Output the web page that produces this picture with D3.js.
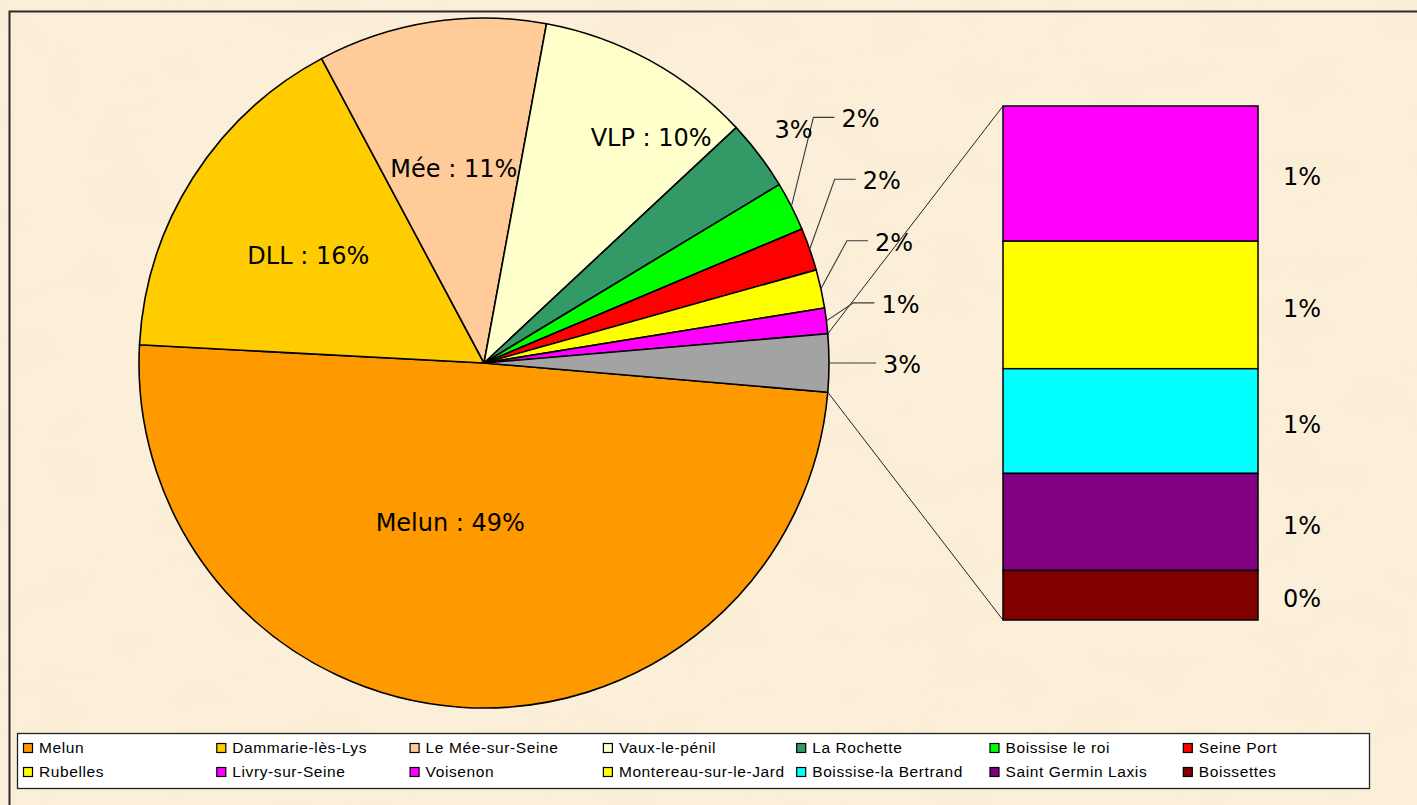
<!DOCTYPE html>
<html>
<head>
<meta charset="utf-8">
<script src="https://cdn.jsdelivr.net/npm/d3@7"></script>
<style>
  html, body { margin: 0; padding: 0; background: #fbedd5; }
  svg { display: block; }
</style>
</head>
<body>
<svg id="chart" width="1417" height="805"></svg>
<script>
// ---------- DATA ----------
const pieNames = ["Melun", "Dammarie-lès-Lys", "Le Mée-sur-Seine", "Vaux-le-pénil", "La Rochette",
                  "Boissise le roi", "Seine Port", "Rubelles", "Livry-sur-Seine"];
const pieShort = ["Melun", "DLL", "Mée", "VLP", null, null, null, null, null];
const pieValues = [49.49, 16.36, 10.7, 10.15, 3.3, 2.3, 2.0, 1.8, 1.2];
const pieColors = ["#FF9900", "#FFCC00", "#FFCC99", "#FFFFCC", "#339966",
                   "#00FF00", "#FF0000", "#FFFF00", "#FF00FF"];

const otherNames = ["Voisenon", "Montereau-sur-le-Jard", "Boissise-la Bertrand", "Saint Germin Laxis", "Boissettes"];
const otherValues = [0.71, 0.67, 0.55, 0.51, 0.26];
const otherColors = ["#FF00FF", "#FFFF00", "#00FFFF", "#800080", "#800000"];
const otherSliceColor = "#A3A3A3";

// ---------- LAYOUT ----------
const W = 1417, H = 805;
const cx = 484, cy = 363, R = 345;
const barX = 1003, barW = 255, barTop = 106, barBottom = 620;
const labelFont = "'DejaVu Sans', Verdana, sans-serif";
const legendFont = "'Liberation Sans', Arial, sans-serif";

const svg = d3.select("#chart");

// background with subtle parchment texture
const defs = svg.append("defs");
const filt = defs.append("filter").attr("id", "paper").attr("x", 0).attr("y", 0).attr("width", "100%").attr("height", "100%");
filt.append("feTurbulence").attr("type", "fractalNoise").attr("baseFrequency", "0.012 0.02").attr("numOctaves", 3).attr("seed", 7).attr("result", "noise");
filt.append("feColorMatrix").attr("in", "noise").attr("type", "matrix")
  .attr("values", "0 0 0 0 0.93  0 0 0 0 0.83  0 0 0 0 0.63  0 0 0 -1.6 0.85");
svg.append("rect").attr("width", W).attr("height", H).attr("fill", "#fcefd9");
svg.append("rect").attr("width", W).attr("height", H).attr("filter", "url(#paper)").attr("opacity", 0.7);

// outer chart border (only top/left visible)
svg.append("rect").attr("x", 9.5).attr("y", 11.5).attr("width", 1420).attr("height", 820)
  .attr("fill", "none").attr("stroke", "#2a2a2a").attr("stroke-width", 2);

// ---------- PIE ----------
const otherTotal = d3.sum(otherValues);
const total = d3.sum(pieValues) + otherTotal;
const pct = v => Math.round(v / total * 100) + "%";

const pieData = pieNames.map((n, i) => ({ name: n, short: pieShort[i], v: pieValues[i], color: pieColors[i] }));
pieData.push({ name: "Autres", short: null, v: otherTotal, color: otherSliceColor, other: true });

// "other" slice centred on the right (east = PI/2 in d3 angles)
const a0 = Math.PI / 2 + (otherTotal / total) * Math.PI;
const pie = d3.pie().sort(null).value(d => d.v).startAngle(a0).endAngle(a0 + 2 * Math.PI);
const arcs = pie(pieData);
const arc = d3.arc().innerRadius(0).outerRadius(R);

const pt = (a, r) => [cx + r * Math.sin(a), cy - r * Math.cos(a)];

const g = svg.append("g");
g.selectAll("path.slice").data(arcs).join("path")
  .attr("class", "slice")
  .attr("transform", `translate(${cx},${cy})`)
  .attr("d", arc)
  .attr("fill", d => d.data.color)
  .attr("stroke", "#000").attr("stroke-width", 1.6).attr("stroke-linejoin", "round");

// inside labels (Excel best-fit placement: radius + angular shift in degrees)
const insideLayout = { "Melun": { r: 163, da: 8 }, "DLL": { r: 206, da: -1 }, "Mée": { r: 197, da: 0 }, "VLP": { r: 281, da: 7.8 } };
arcs.filter(d => d.data.short).forEach(d => {
  const L = insideLayout[d.data.short];
  const mid = (d.startAngle + d.endAngle) / 2 + L.da * Math.PI / 180;
  const [x, y] = pt(mid, L.r);
  svg.append("text").attr("x", x).attr("y", y).attr("dy", "0.36em")
    .attr("text-anchor", "middle").attr("font-family", labelFont).attr("font-size", 24).attr("fill", "#000")
    .text(`${d.data.short} : ${pct(d.data.v)}`);
});

// outside labels with leader lines
const leaderLayout = {
  "Boissise le roi": { dx: 22, dy: -89 },
  "Seine Port": { dx: 25, dy: -70 },
  "Rubelles": { dx: 26, dy: -48 },
  "Livry-sur-Seine": { dx: 27, dy: -18 },
  "Autres": { dx: 0, dy: 0, h: 47 }
};
const leaderG = svg.append("g").attr("fill", "none").attr("stroke", "#3a3a3a").attr("stroke-width", 1.1);
arcs.forEach(d => {
  const mid = (d.startAngle + d.endAngle) / 2;
  const name = d.data.name;
  if (name === "La Rochette") {
    const [x, y] = pt(mid, 388);
    svg.append("text").attr("x", x).attr("y", y).attr("dy", "0.36em").attr("text-anchor", "middle")
      .attr("font-family", labelFont).attr("font-size", 24).text(pct(d.data.v));
    return;
  }
  const L = leaderLayout[name];
  if (!L) return;
  const [ax, ay] = pt(mid, R);
  const ex = ax + L.dx, ey = ay + L.dy;
  const hl = L.h || 21;
  leaderG.append("polyline").attr("points", `${ax},${ay} ${ex},${ey} ${ex + hl},${ey}`);
  svg.append("text").attr("x", ex + hl + 7).attr("y", ey + 10)
    .attr("font-family", labelFont).attr("font-size", 24).text(pct(d.data.v));
});

// ---------- BAR OF PIE ----------
const otherArc = arcs[arcs.length - 1];
const y = d3.scaleLinear().domain([0, otherTotal]).range([barTop, barBottom]);
const stacked = otherValues.map((v, i) => ({ name: otherNames[i], v, color: otherColors[i], y0: d3.sum(otherValues.slice(0, i)), y1: d3.sum(otherValues.slice(0, i + 1)) }));

// connector lines
const [tx, ty] = pt(otherArc.startAngle, R);
const [bx, by] = pt(otherArc.endAngle, R);
svg.append("line").attr("x1", tx).attr("y1", ty).attr("x2", barX).attr("y2", y(0)).attr("stroke", "#222").attr("stroke-width", 1);
svg.append("line").attr("x1", bx).attr("y1", by).attr("x2", barX).attr("y2", y(otherTotal)).attr("stroke", "#222").attr("stroke-width", 1);

svg.selectAll("rect.seg").data(stacked).join("rect")
  .attr("class", "seg")
  .attr("x", barX).attr("width", barW)
  .attr("y", d => y(d.y0)).attr("height", d => y(d.y1) - y(d.y0))
  .attr("fill", d => d.color).attr("stroke", "#000").attr("stroke-width", 1.5);

svg.selectAll("text.seglab").data(stacked).join("text")
  .attr("class", "seglab")
  .attr("x", barX + barW + 25)
  .attr("y", d => (y(d.y0) + y(d.y1)) / 2 + 3)
  .attr("dy", "0.36em")
  .attr("font-family", labelFont).attr("font-size", 24)
  .text(d => pct(d.v));

// ---------- LEGEND ----------
const legendNames = pieNames.concat(otherNames);
const legendColors = pieColors.concat(otherColors);
const lx0 = 17, ly0 = 733, lw = 1352, lh = 55;
svg.append("rect").attr("x", lx0 + 0.5).attr("y", ly0 + 0.5).attr("width", lw).attr("height", lh)
  .attr("fill", "#fff").attr("stroke", "#222").attr("stroke-width", 1.3);
const colW = 193.3, rowY = [748, 772];
legendNames.forEach((n, i) => {
  const col = i % 7, row = Math.floor(i / 7);
  const x = 23 + col * colW;
  const yy = rowY[row];
  svg.append("rect").attr("x", x + 0.5).attr("y", yy - 4.5).attr("width", 9).attr("height", 9)
    .attr("fill", legendColors[i]).attr("stroke", "#000").attr("stroke-width", 1.2);
  svg.append("text").attr("x", x + 16).attr("y", yy).attr("dy", "0.35em")
    .attr("font-family", legendFont).attr("font-size", 15.5).attr("letter-spacing", 0.6).attr("fill", "#000")
    .text(n);
});
</script>
</body>
</html>
